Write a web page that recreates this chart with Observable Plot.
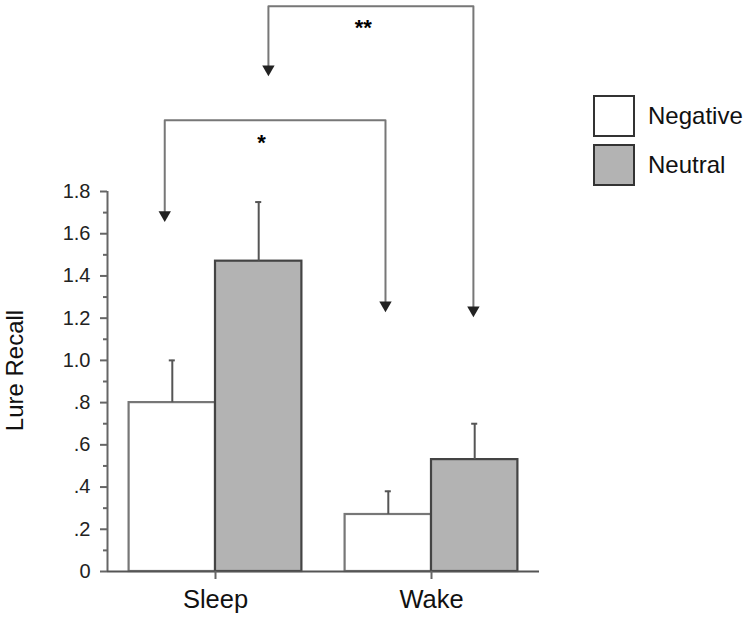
<!DOCTYPE html>
<html>
<head>
<meta charset="utf-8">
<script src="https://cdn.jsdelivr.net/npm/d3@7"></script>
<script src="https://cdn.jsdelivr.net/npm/@observablehq/plot@0.6"></script>
<style>
  html, body { margin: 0; padding: 0; background: #fff; }
  #wrap { position: relative; width: 748px; height: 618px; font-family: "Liberation Sans", Arial, Helvetica, sans-serif; }
  #legend { position: absolute; left: 593px; top: 95px; }
  .item { display: flex; align-items: center; height: 42px; margin-bottom: 7px; }
  .sw { width: 38px; height: 38px; border: 2px solid #333; box-sizing: content-box; }
  .lab { margin-left: 13px; font-size: 24px; color: #111; }
</style>
</head>
<body>
<div id="wrap"><div id="legend"></div></div>
<script>
// ---- data ----
const groups = ["Sleep", "Wake"];
const groupPos = [0, 1];
const conditions = ["Negative", "Neutral"];
const negative = [0.80, 0.27];
const neutral = [1.47, 0.53];
const negativeSE = [0.20, 0.11];
const neutralSE = [0.28, 0.17];
const yTicks = [0, 0.2, 0.4, 0.6, 0.8, 1.0, 1.2, 1.4, 1.6, 1.8];
const yTickLabels = ["0", ".2", ".4", ".6", ".8", "1.0", "1.2", "1.4", "1.6", "1.8"];
const yMinorTicks = [0.1, 0.3, 0.5, 0.7, 0.9, 1.1, 1.3, 1.5, 1.7];
const yLabel = "Lure Recall";
// significance brackets (annotation, data units)
const bracketLabels = ["*", "**"];
const bracketLeftX = [-0.235, 0.245];
const bracketRightX = [0.787, 1.194];
const bracketTopY = [2.137, 2.678];
const bracketLeftEndY = [1.69, 2.38];
const bracketRightEndY = [1.262, 1.238];
const bracketLabelX = [0.213, 0.684];
const bracketLabelY = [2.046, 2.591];

const fills = {Negative: "#ffffff", Neutral: "#b3b3b3"};
const strokes = {Negative: "#777", Neutral: "#444"};
const halfW = 0.4;

const bars = groups.flatMap((g, i) => [
  {group: g, cond: "Negative", x1: groupPos[i] - halfW, x2: groupPos[i], v: negative[i], se: negativeSE[i]},
  {group: g, cond: "Neutral", x1: groupPos[i], x2: groupPos[i] + halfW, v: neutral[i], se: neutralSE[i]}
]).map(d => ({...d, xc: (d.x1 + d.x2) / 2, top: d.v + d.se}));

const bracketPaths = bracketLabels.flatMap((lab, i) => [
  {b: i, x: bracketLeftX[i], y: bracketLeftEndY[i]},
  {b: i, x: bracketLeftX[i], y: bracketTopY[i]},
  {b: i, x: bracketRightX[i], y: bracketTopY[i]},
  {b: i, x: bracketRightX[i], y: bracketRightEndY[i]}
]);
const arrowHeads = bracketLabels.flatMap((lab, i) => [
  {x: bracketLeftX[i], y: bracketLeftEndY[i]},
  {x: bracketRightX[i], y: bracketRightEndY[i]}
]);
const starTexts = bracketLabels.map((lab, i) => ({lab, x: bracketLabelX[i], y: bracketLabelY[i]}));

const chart = Plot.plot({
  width: 748,
  height: 618,
  marginLeft: 107,
  marginRight: 209,
  marginTop: 191,
  marginBottom: 47,
  style: {fontFamily: '"Liberation Sans", Arial, Helvetica, sans-serif', background: "transparent", overflow: "visible"},
  x: {domain: [-0.5, 1.5], axis: null},
  y: {domain: [0, 1.8], axis: null},
  marks: [
    Plot.rect(bars, {x1: "x1", x2: "x2", y1: 0, y2: "v", fill: d => fills[d.cond], stroke: d => strokes[d.cond], strokeWidth: 2.2}),
    Plot.ruleX(bars, {x: "xc", y1: "v", y2: "top", stroke: "#555", strokeWidth: 2}),
    Plot.ruleY(bars, {y: "top", x1: d => d.xc - 0.014, x2: d => d.xc + 0.014, stroke: "#555", strokeWidth: 2}),
    // axes
    Plot.ruleX([-0.5], {y1: 0, y2: 1.8, stroke: "#666", strokeWidth: 2}),
    Plot.ruleY([0], {x1: -0.5, x2: 1.5, stroke: "#555", strokeWidth: 2}),
    Plot.axisY({ticks: yTicks, tickFormat: (d, i) => yTickLabels[i], tickSize: 7, tickPadding: 10, fontSize: 20, stroke: "#666", strokeWidth: 2, color: "#222", label: null}),
    Plot.axisY({ticks: yMinorTicks, tickFormat: () => "", tickSize: 4, stroke: "#666", strokeWidth: 2, label: null}),
    Plot.axisX({ticks: groupPos, tickFormat: (d, i) => groups[i], tickSize: 8, tickPadding: 10, fontSize: 25.5, stroke: "#666", strokeWidth: 2, color: "#111", label: null}),
    Plot.text([yLabel], {frameAnchor: "left", textAnchor: "middle", rotate: -90, dx: -92, dy: -11, fontSize: 24, fill: "#111"}),
    // brackets
    Plot.line(bracketPaths, {x: "x", y: "y", z: "b", stroke: "#777", strokeWidth: 2}),
    Plot.dot(arrowHeads, {x: "x", y: "y", symbol: "triangle", rotate: 180, r: 4.6, fill: "#222", stroke: null}),
    Plot.text(starTexts, {x: "x", y: "y", text: "lab", fontSize: 22, fontWeight: "bold", fill: "#000", dy: 3})
  ]
});
document.getElementById("wrap").prepend(chart);

const legend = document.getElementById("legend");
conditions.forEach(c => {
  const it = document.createElement("div");
  it.className = "item";
  it.innerHTML = `<div class="sw" style="background:${fills[c]}"></div><div class="lab">${c}</div>`;
  legend.appendChild(it);
});
</script>
</body>
</html>
